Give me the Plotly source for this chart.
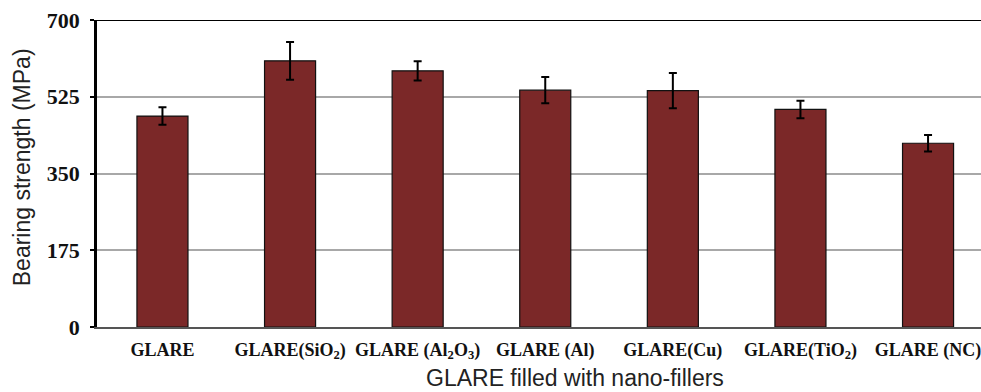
import plotly.graph_objects as go

# Bearing strength of GLARE laminates with different nano-fillers
categories = [
    "GLARE",
    "GLARE(SiO<sub>2</sub>)",
    "GLARE (Al<sub>2</sub>O<sub>3</sub>)",
    "GLARE (Al)",
    "GLARE(Cu)",
    "GLARE(TiO<sub>2</sub>)",
    "GLARE (NC)",
]
strength = [481, 607, 584, 540, 539, 496, 419]
strength_err = [20, 43, 22, 30, 40, 20, 19]
y_ticks = [0, 175, 350, 525, 700]

x_title = "GLARE filled with nano-fillers"
y_title = "Bearing strength (MPa)"

positions = list(range(len(categories)))

fig = go.Figure()
fig.add_trace(go.Bar(
    x=positions,
    y=strength,
    width=0.4,
    marker=dict(color="#7B2828", line=dict(color="#111111", width=1.2)),
    error_y=dict(type="data", array=strength_err, visible=True,
                 color="#000000", thickness=2, width=4),
))

# black frame line along the top of the plot area
fig.add_shape(type="line", xref="paper", yref="y", x0=0, x1=1,
              y0=y_ticks[-1], y1=y_ticks[-1],
              line=dict(color="#000000", width=2))

title_font = dict(family="Liberation Sans", size=23, color="#222222")
fig.add_annotation(text=x_title, xref="paper", yref="paper",
                   x=0.541, y=-0.165, xanchor="center", yanchor="middle",
                   showarrow=False, font=title_font)
fig.add_annotation(text=y_title, xref="paper", yref="paper",
                   x=-0.085, y=0.52, xanchor="center", yanchor="middle",
                   textangle=-90, showarrow=False, font=title_font)

fig.update_layout(
    width=981, height=392,
    margin=dict(l=97, r=0, t=20, b=65),
    plot_bgcolor="white", paper_bgcolor="white",
    showlegend=False,
)
fig.update_xaxes(
    tickmode="array", tickvals=positions,
    ticktext=[f"<b>{c}</b>" for c in categories],
    range=[-0.513, 6.415],
    showline=True, linecolor="#555555", linewidth=2,
    showgrid=False, ticks="", ticklabelstandoff=5,
    ticklabeloverflow="allow",
    tickfont=dict(family="Liberation Serif", size=18, color="#111111"),
)
fig.update_yaxes(
    range=[0, 700], tickmode="array", tickvals=y_ticks,
    ticktext=[f"<b>{v}</b>" for v in y_ticks],
    showline=True, linecolor="#000000", linewidth=2.5,
    ticks="outside", ticklen=4, tickcolor="#000000", tickwidth=1.5,
    ticklabelstandoff=6,
    showgrid=True, gridcolor="#A8A8A8", gridwidth=1.5,
    zeroline=False,
    tickfont=dict(family="Liberation Serif", size=22, color="#111111"),
)

fig.write_html("out.html")
